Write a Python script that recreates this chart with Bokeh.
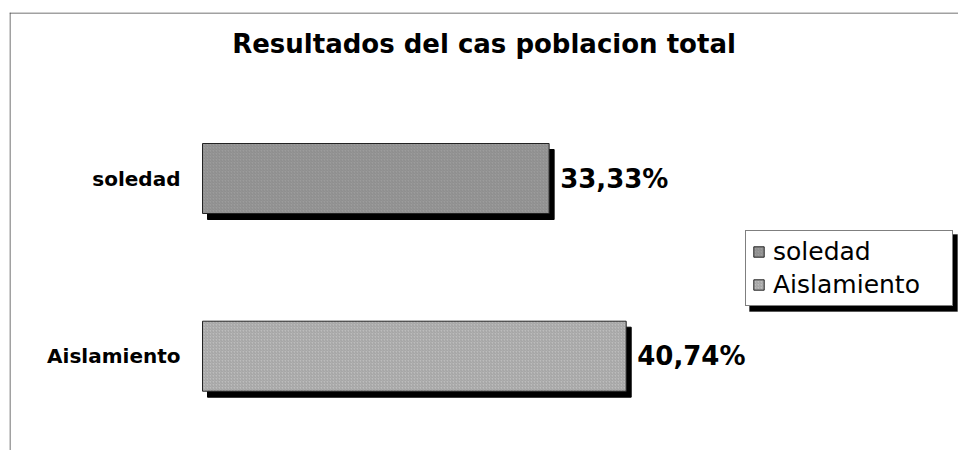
from bokeh.plotting import figure
from bokeh.models import Range1d, ColumnDataSource, Legend, LegendItem, Label, BoxAnnotation, Span
from bokeh.core.properties import value
from bokeh.embed import file_html
from bokeh.resources import INLINE

# ---- data ----
title_text = "Resultados del cas poblacion total"
categories = ["soledad", "Aislamiento"]
values = [33.33, 40.74]
value_labels = ["33,33%", "40,74%"]
colors = ["#9c9c9c", "#bcbcbc"]

# ---- layout constants (pixels) ----
W, H = 958, 450
ML, MT = 9, 12
FW, FH = W - ML, H - MT
PX_PER_PCT = 10.4
ZERO_PX = 193          # zero line distance from frame left
ROW_PX = 177.7         # distance between bar centres
FIRST_ROW_PX = 166     # first bar centre from frame top
BAR_PX = 70
SH_DX, SH_DY = 5, 6
LEG_LEFT, LEG_BOTTOM = 736, 144   # legend position inside frame (px)
LEG_W, LEG_H = 208, 77

n = len(categories)
ys = [n - 1 - i for i in range(n)]
x_start = -ZERO_PX / PX_PER_PCT
x_end = x_start + FW / PX_PER_PCT
y_end = (n - 1) + FIRST_ROW_PX / ROW_PX
y_start = y_end - FH / ROW_PX

def fx(px):  # px from frame left -> data x
    return x_start + px / PX_PER_PCT

def fy(py):  # px from frame bottom -> data y
    return y_start + py / ROW_PX

src = ColumnDataSource(dict(
    y=ys, v=values, cat=categories, lbl=value_labels, color=colors,
    ys=[y - SH_DY / ROW_PX for y in ys],
    vs=[v + SH_DX / PX_PER_PCT for v in values],
    ls=[SH_DX / PX_PER_PCT] * n,
))

p = figure(width=W, height=H, output_backend="svg", toolbar_location=None,
           x_range=Range1d(x_start, x_end), y_range=Range1d(y_start, y_end),
           x_axis_type=None, y_axis_type=None,
           min_border_left=ML, min_border_top=MT, min_border_right=0, min_border_bottom=0)
p.outline_line_color = None
p.background_fill_color = "white"
p.border_fill_color = "white"

# chart-area border: only top and left edges are visible in the reference
p.add_layout(Span(location=fx(0.5), dimension="height", line_color="#444444", line_width=1))
p.add_layout(Span(location=fy(FH - 0.5), dimension="width", line_color="#444444", line_width=1))

shadow = p.hbar(y="ys", left="ls", right="vs", height=BAR_PX / ROW_PX, source=src,
                fill_color="black", line_color="black")
bars = p.hbar(y="y", left=0, right="v", height=BAR_PX / ROW_PX, source=src,
              fill_color="color", line_color="#222222", line_width=1,
              hatch_pattern="right_diagonal_line", hatch_color="#6e6e6e",
              hatch_alpha=0.35, hatch_scale=3, hatch_weight=1)

p.text(x=0, y="y", text="cat", source=src, x_offset=-22,
       text_align="right", text_baseline="middle",
       text_font=value("DejaVu Sans"), text_font_style="bold",
       text_font_size="20px", text_color="black")
p.text(x="v", y="y", text="lbl", source=src, x_offset=11,
       text_align="left", text_baseline="middle",
       text_font=value("DejaVu Sans"), text_font_style="bold",
       text_font_size="26px", text_color="black")

p.add_layout(Label(x=(x_start + x_end) / 2, y=y_end - 31 / ROW_PX, text=title_text,
                   text_align="center", text_baseline="middle",
                   text_font="DejaVu Sans", text_font_style="bold",
                   text_font_size="26px", text_color="black"))

# legend drop shadow
p.add_layout(BoxAnnotation(left=fx(LEG_LEFT + 4), right=fx(LEG_LEFT + LEG_W + 4),
                           bottom=fy(LEG_BOTTOM - 5), top=fy(LEG_BOTTOM + LEG_H - 5),
                           fill_color="black", fill_alpha=1.0, line_color="black"))

items = [LegendItem(label=c, renderers=[bars], index=i) for i, c in enumerate(categories)]
legend = Legend(items=items, location=(LEG_LEFT, LEG_BOTTOM), orientation="vertical",
                label_text_font="DejaVu Sans", label_text_font_size="25px",
                label_text_color="black", label_height=28, label_width=173,
                glyph_width=13, glyph_height=13, label_standoff=8,
                padding=6, spacing=4, margin=0,
                border_line_color="black", border_line_width=1,
                background_fill_color="white", background_fill_alpha=1.0)
p.add_layout(legend, "center")

open("out.html", "w").write(file_html(p, INLINE))
